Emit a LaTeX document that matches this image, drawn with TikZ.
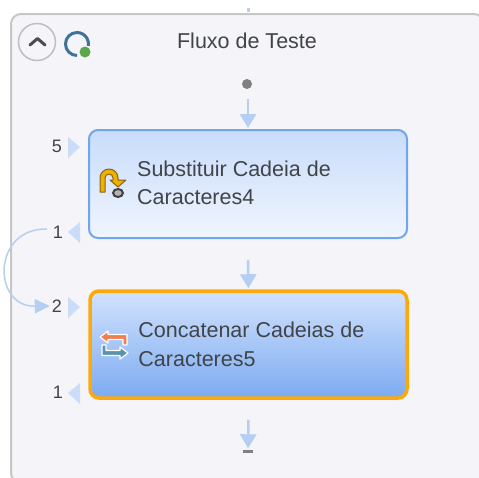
\documentclass[tikz,border=0pt]{standalone}
\usepackage{fontspec}
\setmainfont{Liberation Sans}
\usetikzlibrary{arrows.meta, positioning}
\definecolor{colorPanel}{HTML}{F5F4F8}
\definecolor{colorFrame}{HTML}{C6C6C6}
\definecolor{colorLink}{HTML}{B4CFF3}
\definecolor{colorPort}{HTML}{C9DCF8}
\definecolor{colorText}{HTML}{404448}
\definecolor{colorEdge}{HTML}{6FA6EE}
\definecolor{colorSelect}{HTML}{FFA80A}
\definecolor{colorRing}{HTML}{3C739B}
\definecolor{colorStatus}{HTML}{5AA84A}
\definecolor{colorGold}{HTML}{F0B000}
\definecolor{colorBrown}{HTML}{8A6410}
\definecolor{colorSwapA}{HTML}{EE8050}
\definecolor{colorSwapB}{HTML}{5A91AF}
\definecolor{colorBoxTop}{HTML}{C8DCFB}
\definecolor{colorBoxEnd}{HTML}{F0F5FE}
\definecolor{colorSelTop}{HTML}{D2E2FD}
\definecolor{colorSelEnd}{HTML}{7CABF1}
\tikzset{
  linkarrow/.style={draw=colorLink, line width=2.5pt, -{Triangle[width=16pt,length=14pt]}, shorten >=1pt},
  stepbox/.style={rounded corners=9pt, minimum width=318pt, minimum height=108pt, inner sep=0pt, line width=2pt},
  boxtext/.style={font=\fontsize{21.5}{28.5}\selectfont, text=colorText, align=left, inner sep=0pt, anchor=west},
  count/.style={font=\fontsize{18}{18}\selectfont, text=colorText, inner sep=0pt},
}
\begin{document}
\begin{tikzpicture}[x=1pt, y=-1pt]
\useasboundingbox (0,0) rectangle (479,477);
\fill[white] (0,0) rectangle (479,477);
\draw[colorFrame, line width=2pt, fill=colorPanel, rounded corners=10pt] (11,14) rectangle (484,483);
\node[inner sep=0pt, font=\fontsize{21.5}{24}\selectfont, text=colorText] (title) at (247,41) {Fluxo de Teste};
% collapse button and status ring
\node[circle, draw=black!25, line width=1.5pt, fill=colorPanel, minimum size=37pt, inner sep=0pt] (collapse) at (37,42) {};
\draw[black!70, line width=3pt, line cap=round, line join=round] (30,45) -- (37.5,38.5) -- (45,45);
\draw[colorRing, line width=3pt] (77,55.5) arc[start angle=90, end angle=370, radius=11.5];
\node[circle, fill=colorStatus, minimum size=11pt, inner sep=0pt] (status) at (85,52) {};
% flow
\coordinate (top0) at (248,8);
\coordinate (top1) at (248,12);
\draw[colorLink, line width=3pt] (top0) -- (top1);
\node[circle, fill=black!50, minimum size=10pt, inner sep=0pt] (start) at (247,84) {};
\node[stepbox, draw=colorEdge, top color=colorBoxTop, bottom color=colorBoxEnd] (box1) at (248,184) {};
\node[stepbox, draw=colorSelect, line width=3.5pt, top color=colorSelTop, bottom color=colorSelEnd, minimum width=317pt, minimum height=107pt] (box2) at (248.5,344.5) {};
\node[boxtext] (text1) at ([xshift=49pt,yshift=1pt]box1.west) {Substituir Cadeia de\\Caracteres4};
\node[boxtext] (text2) at ([xshift=50pt]box2.west) {Concatenar Cadeias de\\Caracteres5};
\node[fill=black!50, minimum width=10pt, minimum height=3pt, inner sep=0pt] (stop) at (248,451) {};
\draw[linkarrow] ([xshift=1pt,yshift=-10pt]start.south) -- (box1.north);
\draw[linkarrow] ([yshift=-21pt]box1.south) -- (box2.north);
\draw[linkarrow] ([yshift=-20pt]box2.south) -- (stop.north);
% step icons
\draw[colorBrown, fill=colorGold, line width=1pt, line join=round]
  (100,192) -- (100,178) arc[start angle=180, end angle=360, radius=9] -- (118,180) -- (126,180) -- (118,187) -- (110,180) -- (113,180) -- (113,178) arc[start angle=360, end angle=180, radius=4] -- (105,192) -- cycle;
\draw[black!75, line width=2pt, fill=black!30] (118,193) ellipse[x radius=5, y radius=4];
\draw[white, fill=colorSwapA, line width=1.2pt, line join=round]
  (100,337) -- (108,331) -- (108,334.5) -- (127,334.5) -- (127,345) -- (123,345) -- (123,339.5) -- (108,339.5) -- (108,343) -- cycle;
\draw[white, fill=colorSwapB, line width=1.2pt, line join=round]
  (128,353) -- (120,347) -- (120,350.5) -- (106,350.5) -- (106,345) -- (102,345) -- (102,355.5) -- (120,355.5) -- (120,359) -- cycle;
% ports
\node[count] (in1) at (57,146) {5};
\node[count] (out1) at (58,232) {1};
\node[count] (in2) at (57,306) {2};
\node[count] (out2) at (58,392) {1};
\fill[colorPort] (68,137) -- (80,147) -- (68,158) -- cycle;
\fill[colorPort] (80,222) -- (68,232) -- (80,243) -- cycle;
\fill[colorPort] (68,297) -- (80,307) -- (68,318) -- cycle;
\fill[colorPort] (80,383) -- (68,393) -- (80,404) -- cycle;
\draw[colorLink, line width=1.5pt, -{Triangle[width=14pt,length=15pt]}]
  (out1.west) ++(-6pt,3pt) .. controls (-8,228) and (-8,307) .. ([xshift=-2pt]in2.west);
\end{tikzpicture}
\end{document}
